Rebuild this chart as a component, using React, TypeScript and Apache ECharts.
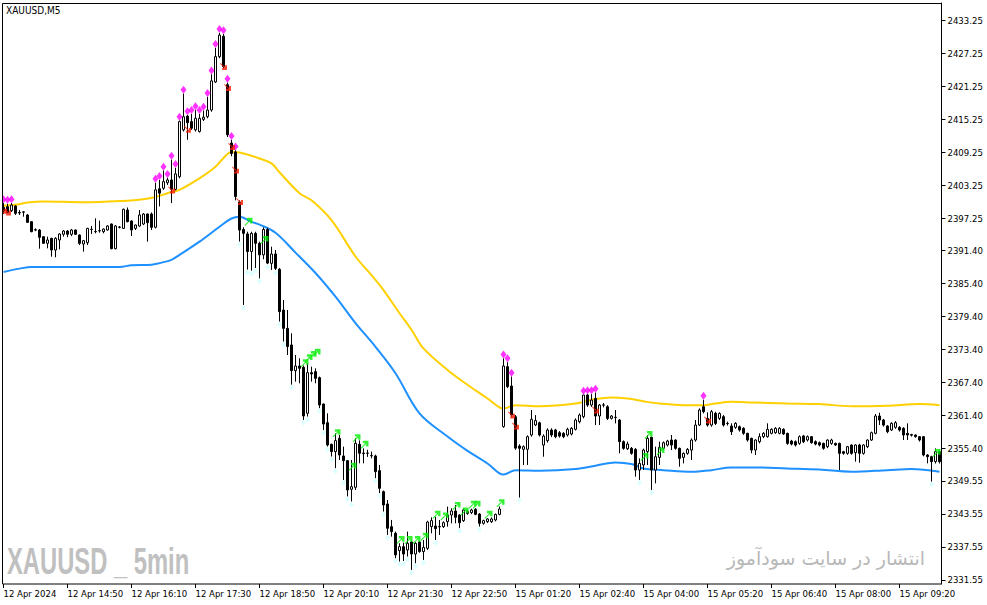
import React, { useEffect, useRef } from "react";
import * as echarts from "echarts";

// x-axis tick labels, one every 16 bars
const tickLabels = [
  "12 Apr 2024", "12 Apr 14:50", "12 Apr 16:10", "12 Apr 17:30", "12 Apr 18:50",
  "12 Apr 20:10", "12 Apr 21:30", "12 Apr 22:50", "15 Apr 01:20", "15 Apr 02:40",
  "15 Apr 04:00", "15 Apr 05:20", "15 Apr 06:40", "15 Apr 08:00", "15 Apr 09:20",
];

// price-scale labels
const priceLabels = [
  2433.25, 2427.25, 2421.25, 2415.25, 2409.25, 2403.25, 2397.25, 2391.4, 2385.4,
  2379.4, 2373.4, 2367.4, 2361.4, 2355.4, 2349.55, 2343.55, 2337.55, 2331.55,
];

// [open, close, low, high] — Friday 12 Apr from 13:30
const fridayBars: number[][] = [
  [2399.2, 2398.6, 2398.0, 2400.0], [2399.35, 2398.26, 2398.14, 2399.9], [2398.62, 2399.65, 2398.4, 2400.0],
  [2399.47, 2398.14, 2397.84, 2399.6], [2398.3, 2398.2, 2397.84, 2398.74], [2398.4, 2398.35, 2397.53, 2398.56],
  [2397.84, 2396.5, 2396.4, 2398.0], [2396.63, 2394.81, 2394.7, 2396.7], [2395.15, 2395.1, 2394.9, 2395.4],
  [2395.11, 2393.78, 2391.72, 2395.3], [2393.9, 2392.69, 2392.6, 2394.0], [2392.69, 2393.3, 2391.78, 2393.9],
  [2393.6, 2391.48, 2390.27, 2393.7], [2391.48, 2393.6, 2390.15, 2393.8], [2393.3, 2394.39, 2391.6, 2394.5],
  [2394.33, 2394.93, 2393.9, 2395.11], [2394.93, 2394.33, 2393.8, 2395.1], [2394.33, 2395.11, 2394.0, 2395.3],
  [2395.11, 2394.33, 2394.2, 2395.2], [2394.2, 2392.69, 2392.39, 2394.3], [2392.57, 2393.17, 2391.18, 2393.3],
  [2392.81, 2395.41, 2392.39, 2395.5], [2395.2, 2395.25, 2394.39, 2395.84], [2394.85, 2394.8, 2394.51, 2397.23],
  [2394.95, 2395.0, 2394.63, 2396.81], [2394.81, 2395.29, 2394.51, 2395.4], [2395.11, 2395.84, 2395.0, 2396.0],
  [2396.2, 2391.72, 2391.6, 2396.3], [2391.72, 2395.84, 2391.6, 2396.0], [2395.6, 2395.65, 2395.4, 2395.84],
  [2395.41, 2398.87, 2395.3, 2399.0], [2398.74, 2396.63, 2396.5, 2399.2], [2396.75, 2395.11, 2394.02, 2396.9],
  [2395.41, 2396.02, 2395.11, 2396.1], [2395.84, 2397.84, 2395.7, 2398.74], [2396.2, 2398.02, 2396.0, 2398.2],
  [2398.02, 2396.44, 2392.99, 2398.1], [2398.02, 2395.6, 2395.11, 2398.3], [2395.6, 2402.4, 2395.4, 2403.7],
  [2402.6, 2401.8, 2399.4, 2404.2], [2402.7, 2403.9, 2402.4, 2405.9], [2403.7, 2404.2, 2403.3, 2404.6],
  [2404.2, 2402.5, 2400.0, 2407.9], [2402.5, 2405.3, 2402.3, 2406.4], [2404.8, 2414.8, 2404.5, 2415.0],
  [2413.3, 2415.7, 2413.0, 2419.9], [2415.8, 2414.6, 2411.5, 2416.0], [2414.8, 2413.6, 2413.3, 2416.2],
  [2413.3, 2415.4, 2413.0, 2416.9], [2413.0, 2415.4, 2412.8, 2416.2], [2415.2, 2415.6, 2414.9, 2416.8],
  [2415.7, 2416.9, 2415.4, 2419.3], [2416.9, 2422.2, 2416.6, 2423.4], [2422.0, 2426.6, 2421.8, 2428.2],
  [2426.6, 2430.5, 2426.3, 2430.9], [2430.3, 2424.8, 2424.5, 2430.7], [2421.5, 2412.4, 2412.0, 2421.9],
  [2410.9, 2409.0, 2408.5, 2411.5], [2409.3, 2401.2, 2400.5, 2409.6], [2400.2, 2395.1, 2393.0, 2400.5],
  [2395.2, 2394.5, 2381.5, 2395.6], [2394.4, 2391.2, 2387.9, 2394.8], [2391.2, 2394.5, 2387.7, 2394.8],
  [2394.5, 2392.7, 2388.2, 2394.8], [2392.7, 2390.6, 2386.3, 2393.0], [2390.6, 2395.2, 2389.8, 2395.6],
  [2395.2, 2389.1, 2388.9, 2395.5], [2389.06, 2390.75, 2387.85, 2392.09], [2390.75, 2388.15, 2387.85, 2391.48],
  [2387.97, 2380.28, 2378.47, 2388.2], [2380.58, 2377.25, 2374.83, 2382.4], [2377.25, 2373.93, 2372.41, 2380.58],
  [2374.23, 2369.57, 2367.0, 2376.35], [2369.57, 2370.41, 2367.57, 2372.41], [2370.41, 2369.99, 2367.27, 2371.81],
  [2370.17, 2361.33, 2360.61, 2370.5], [2361.82, 2369.2, 2361.21, 2370.9], [2369.2, 2368.96, 2367.57, 2370.29],
  [2369.39, 2368.17, 2367.27, 2369.99], [2368.3, 2363.33, 2362.73, 2368.5], [2363.51, 2359.88, 2358.79, 2363.6],
  [2360.12, 2356.07, 2355.77, 2361.82], [2356.19, 2354.86, 2353.95, 2356.3], [2354.86, 2356.86, 2351.83, 2358.19],
  [2357.28, 2354.25, 2353.35, 2357.88], [2354.07, 2353.22, 2349.71, 2355.77], [2353.22, 2347.9, 2346.69, 2353.35],
  [2348.02, 2348.5, 2345.78, 2353.35], [2348.38, 2356.37, 2347.9, 2357.28], [2356.19, 2354.56, 2352.74, 2356.9],
  [2354.6, 2354.5, 2352.74, 2355.46], [2354.55, 2354.6, 2353.9, 2355.2], [2354.1, 2354.15, 2353.65, 2354.86],
  [2354.07, 2351.23, 2350.02, 2354.3], [2351.41, 2348.2, 2347.29, 2352.44], [2347.59, 2345.17, 2343.96, 2347.8],
  [2345.35, 2340.94, 2339.73, 2346.08], [2341.24, 2340.33, 2339.42, 2342.45], [2340.03, 2336.09, 2335.49, 2340.33],
  [2336.88, 2337.6, 2334.88, 2338.21], [2337.6, 2336.27, 2335.0, 2338.33], [2337.0, 2338.21, 2335.79, 2340.33],
  [2338.45, 2336.27, 2333.37, 2338.6], [2336.27, 2338.21, 2334.58, 2338.4], [2338.45, 2336.7, 2336.5, 2338.6],
  [2336.7, 2337.48, 2335.18, 2338.81], [2337.3, 2342.08, 2337.0, 2342.3], [2341.24, 2342.33, 2340.03, 2342.93],
  [2341.36, 2340.87, 2338.81, 2343.05], [2341.2, 2341.25, 2339.72, 2342.45], [2341.24, 2341.96, 2341.0, 2342.2],
  [2342.14, 2343.35, 2341.24, 2344.87], [2343.35, 2344.08, 2341.84, 2344.57], [2344.08, 2342.93, 2341.84, 2345.17],
  [2343.35, 2341.96, 2340.93, 2343.5], [2342.33, 2344.26, 2342.1, 2344.5], [2343.96, 2343.66, 2343.4, 2344.3],
  [2343.78, 2344.26, 2343.5, 2344.5], [2344.38, 2343.47, 2343.3, 2344.6], [2343.53, 2341.84, 2341.24, 2343.7],
  [2341.84, 2342.33, 2341.6, 2342.5], [2342.14, 2342.63, 2341.9, 2342.8], [2342.14, 2342.63, 2341.9, 2342.9],
  [2342.45, 2343.47, 2342.2, 2343.6], [2343.47, 2344.44, 2343.3, 2344.9],
];

// [open, close, low, high] — Monday 15 Apr from 01:05
const mondayBars: number[][] = [
  [2359.4, 2370.41, 2359.2, 2371.8], [2370.29, 2366.66, 2366.4, 2371.1], [2366.78, 2361.5, 2361.2, 2368.5],
  [2361.2, 2355.5, 2355.2, 2361.5], [2355.88, 2355.46, 2346.5, 2356.2], [2355.28, 2355.76, 2352.44, 2356.0],
  [2355.28, 2357.58, 2352.44, 2357.8], [2357.88, 2360.73, 2357.58, 2362.42], [2359.7, 2360.5, 2359.5, 2361.5],
  [2360.1, 2357.88, 2357.6, 2360.3], [2356.06, 2357.69, 2353.94, 2358.0], [2356.85, 2358.78, 2356.5, 2359.1],
  [2358.78, 2357.88, 2357.5, 2359.1], [2358.78, 2357.57, 2357.3, 2359.0], [2358.3, 2357.69, 2357.4, 2358.6],
  [2358.18, 2357.57, 2357.3, 2358.4], [2357.88, 2358.91, 2357.6, 2359.2], [2358.06, 2359.09, 2357.8, 2359.3],
  [2358.91, 2360.6, 2358.7, 2360.9], [2360.3, 2361.51, 2360.0, 2361.8], [2361.21, 2365.14, 2360.9, 2365.2],
  [2365.14, 2363.32, 2363.0, 2365.3], [2363.32, 2364.23, 2363.0, 2365.3], [2364.53, 2361.33, 2359.69, 2365.6],
  [2361.33, 2363.32, 2359.69, 2363.5], [2363.3, 2363.35, 2362.9, 2363.7], [2363.02, 2360.9, 2360.6, 2363.3],
  [2360.9, 2361.33, 2360.7, 2361.5], [2361.05, 2361.1, 2359.99, 2362.42], [2360.6, 2356.67, 2354.55, 2360.8],
  [2356.67, 2355.46, 2355.2, 2356.9], [2355.39, 2356.24, 2355.15, 2356.67], [2355.46, 2354.55, 2354.3, 2355.7],
  [2355.27, 2351.52, 2350.31, 2355.5], [2351.52, 2352.73, 2349.7, 2353.64], [2352.43, 2355.15, 2351.52, 2355.4],
  [2354.85, 2357.27, 2352.43, 2357.88], [2357.45, 2351.52, 2347.89, 2357.6], [2351.52, 2353.94, 2349.1, 2355.76],
  [2353.82, 2355.64, 2352.43, 2356.67], [2355.46, 2356.48, 2355.2, 2356.7], [2356.06, 2356.79, 2355.8, 2357.0],
  [2356.97, 2356.06, 2355.15, 2357.88], [2356.97, 2355.46, 2355.2, 2357.1], [2355.46, 2353.64, 2352.13, 2355.6],
  [2353.82, 2354.55, 2352.73, 2354.7], [2354.55, 2355.27, 2354.3, 2355.5], [2355.15, 2356.97, 2353.34, 2357.27],
  [2356.97, 2359.69, 2356.67, 2360.6], [2359.69, 2362.42, 2359.5, 2362.72], [2363.02, 2362.11, 2361.81, 2364.3],
  [2360.9, 2359.69, 2359.4, 2362.0], [2359.69, 2362.11, 2359.39, 2362.42], [2361.81, 2359.99, 2359.7, 2362.1],
  [2360.9, 2361.81, 2360.6, 2362.0], [2361.21, 2359.69, 2359.4, 2361.5], [2360.0, 2359.95, 2359.6, 2360.3],
  [2359.51, 2358.48, 2357.88, 2360.0], [2359.27, 2360.0, 2359.0, 2360.2], [2359.39, 2358.79, 2358.5, 2359.6],
  [2359.09, 2358.18, 2357.9, 2359.3], [2358.18, 2356.97, 2356.67, 2358.3], [2357.27, 2355.15, 2354.55, 2357.4],
  [2355.15, 2356.97, 2354.25, 2357.1], [2356.67, 2357.58, 2356.36, 2358.18], [2357.58, 2358.18, 2357.3, 2358.4],
  [2357.58, 2358.91, 2357.4, 2360.0], [2358.18, 2358.91, 2358.0, 2359.1], [2358.3, 2359.09, 2358.1, 2359.3],
  [2358.18, 2359.09, 2358.0, 2359.3], [2358.91, 2358.06, 2357.9, 2359.1], [2358.18, 2356.36, 2356.1, 2358.3],
  [2356.79, 2356.24, 2356.0, 2357.0], [2356.67, 2356.06, 2355.8, 2356.9], [2356.36, 2357.58, 2356.1, 2357.8],
  [2357.7, 2356.67, 2356.4, 2357.9], [2356.97, 2357.58, 2356.7, 2357.8], [2357.58, 2356.49, 2356.3, 2357.7],
  [2356.67, 2356.24, 2356.0, 2356.9], [2356.49, 2356.06, 2355.8, 2356.7], [2356.36, 2355.46, 2355.2, 2356.5],
  [2355.76, 2356.97, 2355.5, 2357.1], [2356.36, 2356.97, 2356.1, 2357.2], [2356.36, 2356.06, 2355.9, 2356.5],
  [2356.36, 2354.55, 2351.52, 2356.5], [2354.85, 2354.55, 2354.3, 2355.0], [2354.55, 2355.76, 2354.3, 2355.9],
  [2356.06, 2354.55, 2354.3, 2356.2], [2354.67, 2356.06, 2353.04, 2356.2], [2356.06, 2354.55, 2352.85, 2356.3],
  [2354.55, 2356.06, 2354.3, 2356.2], [2355.76, 2356.97, 2355.5, 2357.1], [2356.97, 2358.3, 2356.8, 2358.5],
  [2358.18, 2361.33, 2358.0, 2361.69], [2361.33, 2360.6, 2359.69, 2361.93], [2360.6, 2359.69, 2359.4, 2360.8],
  [2359.51, 2358.48, 2358.2, 2359.7], [2358.79, 2360.0, 2358.6, 2360.2], [2359.27, 2360.12, 2359.0, 2360.4],
  [2359.27, 2358.79, 2358.5, 2359.5], [2359.09, 2357.88, 2356.97, 2359.3], [2358.18, 2357.88, 2356.97, 2360.0],
  [2357.95, 2357.85, 2357.6, 2358.1], [2357.88, 2357.58, 2357.4, 2358.0], [2357.58, 2356.97, 2356.7, 2357.7],
  [2357.58, 2354.25, 2354.0, 2357.7], [2354.25, 2353.94, 2352.73, 2354.4], [2353.94, 2353.04, 2349.4, 2354.1],
  [2353.04, 2354.85, 2352.7, 2355.46], [2354.85, 2353.04, 2352.7, 2355.0],
];

// moving averages, [bar index, price]
const yellowMA: number[][] = [
  [0, 2399.5], [3, 2399.7], [6, 2400.1], [10, 2400.3], [20, 2400.15], [30, 2400.4], [35, 2400.7],
  [38, 2401.1], [41, 2401.8], [44, 2402.4], [49, 2404.5], [53, 2406.6], [55, 2408.2], [57, 2409.3],
  [59, 2409.2], [62, 2408.6], [64, 2408.1], [67, 2407.2], [69, 2405.6], [74, 2401.8], [77, 2400.5],
  [82, 2396.9], [88, 2390.3], [92, 2386.9], [95, 2384.2], [99, 2380.0], [102, 2377.0], [105, 2373.6],
  [111, 2369.7], [116, 2367.0], [121, 2364.5], [124, 2362.9], [125, 2362.7], [128, 2363.3], [134, 2363.1],
  [143, 2363.6], [148, 2364.4], [152, 2364.7], [156, 2364.5], [160, 2364.0], [164, 2363.6], [170, 2363.3],
  [175, 2363.3], [178, 2363.6], [182, 2363.9], [187, 2363.8], [196, 2363.6], [204, 2363.5], [212, 2363.1],
  [221, 2363.2], [229, 2363.5], [234, 2363.3],
];
const blueMA: number[][] = [
  [0, 2387.5], [4, 2388.1], [7, 2388.4], [29, 2388.4], [32, 2388.7], [37, 2388.8], [39, 2389.1],
  [42, 2389.7], [44, 2390.6], [49, 2393.0], [54, 2395.7], [57, 2397.2], [59, 2397.5], [62, 2396.6],
  [64, 2396.1], [68, 2394.6], [73, 2391.0], [78, 2387.3], [83, 2383.0], [88, 2378.2], [93, 2373.9],
  [98, 2369.1], [104, 2361.8], [111, 2357.6], [116, 2355.0], [121, 2352.7], [124, 2350.9], [125, 2350.7],
  [128, 2351.5], [134, 2351.4], [143, 2351.7], [148, 2352.3], [153, 2352.9], [157, 2352.6], [160, 2351.8],
  [165, 2351.5], [172, 2351.2], [177, 2351.5], [182, 2352.0], [187, 2352.0], [196, 2351.8], [204, 2351.6],
  [212, 2351.2], [221, 2351.5], [227, 2351.7], [234, 2351.2],
];

// signal markers
const sellSignalBars = [0, 1, 2, 38, 39, 40, 41, 42, 43, 44, 45, 46, 47, 48, 49, 50, 51, 52, 53, 54, 55, 56, 57, 58, 125, 126, 127, 145, 146, 147, 148, 175];
const lowMarkBars = [59, 60, 61, 62, 63, 64, 66, 68, 69, 70, 72, 75, 76, 79, 80, 81, 82, 83, 85, 86, 87, 93, 94, 95, 96, 98, 99, 100, 101, 102, 103, 105, 108, 114, 119, 129, 159, 162, 232];
const redArrows: number[][] = [
  [0, 2398.7], [1, 2398.4], [42, 2402.4], [46, 2413.4], [55, 2424.8], [56, 2421.0], [57, 2410.3],
  [58, 2406.0], [59, 2400.3], [127, 2361.5], [128, 2359.5], [148, 2362.4], [176, 2360.6],
];
const greenArrows: number[][] = [
  [61, 2396.6], [65, 2393.3], [75, 2370.9], [76, 2371.8], [77, 2372.4], [78, 2372.8], [83, 2358.2],
  [87, 2352.1], [88, 2357.3], [90, 2356.1], [99, 2338.8], [101, 2338.8], [103, 2338.8], [105, 2339.4],
  [108, 2343.4], [110, 2343.1], [113, 2345.0], [115, 2344.0], [117, 2345.2], [118, 2345.2], [121, 2343.4],
  [124, 2345.5], [160, 2353.9], [161, 2357.9], [164, 2354.9], [233, 2354.6],
];

const pad = (n: number) => (n < 10 ? "0" + n : "" + n);
const hm = (m: number) => pad(Math.floor(m / 60)) + ":" + pad(m % 60);

const GREEN_ARROW = "path://M0,9 L6,3 L3,3 L3,0 L10,0 L10,7 L7,7 L7,4 L1,10 Z";
const RED_ARROW = "path://M0,1 L6,7 L3,7 L3,10 L10,10 L10,3 L7,3 L7,6 L1,0 Z";
const AXIS_FONT = "'DejaVu Sans Condensed', 'Liberation Sans Narrow', 'Liberation Sans', sans-serif";

export default function App() {
  const ref = useRef<HTMLDivElement>(null);

  useEffect(() => {
    if (!ref.current) return;
    const chart = echarts.init(ref.current, undefined, { renderer: "svg" });

    const bars = fridayBars.concat(mondayBars);
    const categories: string[] = [];
    fridayBars.forEach((_, i) => categories.push("12 Apr " + hm(13 * 60 + 30 + 5 * i)));
    mondayBars.forEach((_, i) => categories.push("15 Apr " + hm(65 + 5 * i)));

    const every16 = (i: number) => i % 16 === 0;

    chart.setOption({
      animation: false,
      backgroundColor: "#ffffff",
      grid: { left: 1.5, top: 3, width: 940, height: 581, show: false },
      xAxis: {
        type: "category",
        data: categories,
        boundaryGap: true,
        axisLine: { show: false },
        axisTick: { show: true, alignWithLabel: true, interval: every16, length: 4, lineStyle: { color: "#000", width: 1 } },
        axisLabel: {
          interval: every16,
          formatter: (_v: string, i: number) => tickLabels[Math.round(i / 16)] ?? "",
          align: "left",
          margin: 4,
          color: "#000",
          fontSize: 9.5,
          fontFamily: AXIS_FONT,
        },
        splitLine: { show: false },
      },
      yAxis: {
        type: "value",
        position: "right",
        min: 2330.82,
        max: 2436.34,
        splitLine: { show: false },
        axisLine: { show: true, lineStyle: { color: "#000", width: 1 } },
        axisTick: { show: true, length: 4, customValues: priceLabels, lineStyle: { color: "#000" } },
        axisLabel: {
          customValues: priceLabels,
          formatter: (v: number) => v.toFixed(2),
          margin: 6,
          color: "#000",
          fontSize: 9.5,
          fontFamily: AXIS_FONT,
        },
      },
      series: [
        {
          type: "line",
          data: yellowMA,
          symbol: "none",
          smooth: 0.35,
          lineStyle: { color: "#FFD000", width: 2 },
          z: 2,
        },
        {
          type: "line",
          data: blueMA,
          symbol: "none",
          smooth: 0.35,
          lineStyle: { color: "#1E90FF", width: 2 },
          z: 2,
        },
        {
          type: "candlestick",
          data: bars,
          barWidth: 2,
          itemStyle: { color: "#ffffff", color0: "#000000", borderColor: "#000000", borderColor0: "#000000", borderWidth: 1 },
          z: 3,
        },
        {
          type: "scatter",
          data: lowMarkBars.map((i) => [i, bars[i][2] - 0.5]),
          symbol: "diamond",
          symbolSize: [5, 6],
          itemStyle: { color: "#D6FFFF" },
          z: 4,
        },
        {
          type: "scatter",
          data: sellSignalBars.map((i) => [i, bars[i][3] + 0.7]),
          symbol: "diamond",
          symbolSize: [6, 8],
          itemStyle: { color: "#FF00FF" },
          z: 5,
        },
        {
          type: "scatter",
          data: redArrows,
          symbol: RED_ARROW,
          symbolSize: 7,
          itemStyle: { color: "#FF1A00" },
          z: 5,
        },
        {
          type: "scatter",
          data: greenArrows,
          symbol: GREEN_ARROW,
          symbolSize: 8,
          symbolOffset: [1, 0],
          itemStyle: { color: "#00EE00" },
          z: 5,
        },
      ],
      graphic: [
        {
          type: "text",
          left: 7,
          top: 543,
          z: 1,
          style: {
            text: "XAUUSD _ 5min",
            fontFamily: "'Liberation Sans Narrow', 'Liberation Sans', sans-serif",
            fontWeight: "bold",
            fontSize: 36,
            fill: "#C0C0C0",
          },
          scaleX: 0.66,
        },
        {
          type: "text",
          right: 62,
          top: 548,
          z: 1,
          style: {
            text: "انتشار در سایت سودآموز",
            fontFamily: "'DejaVu Sans', sans-serif",
            fontSize: 19,
            fill: "#B8B8B8",
          },
        },
        {
          type: "text",
          left: 6,
          top: 5,
          z: 100,
          style: { text: "XAUUSD,M5", fontFamily: AXIS_FONT, fontSize: 10, fill: "#000" },
        },
        {
          type: "rect",
          z: 90,
          shape: { x: 0, y: 0, width: 2.5, height: 584 },
          style: { fill: "#ffffff" },
        },
        {
          type: "rect",
          z: 100,
          shape: { x: 2.5, y: 3.5, width: 939, height: 580.5 },
          style: { fill: "none", stroke: "#000", lineWidth: 1 },
        },
      ],
    });

    return () => chart.dispose();
  }, []);

  return (
    <div
      ref={ref}
      style={{ position: "fixed", left: 0, top: 0, width: 987, height: 605, background: "#fff" }}
    />
  );
}
